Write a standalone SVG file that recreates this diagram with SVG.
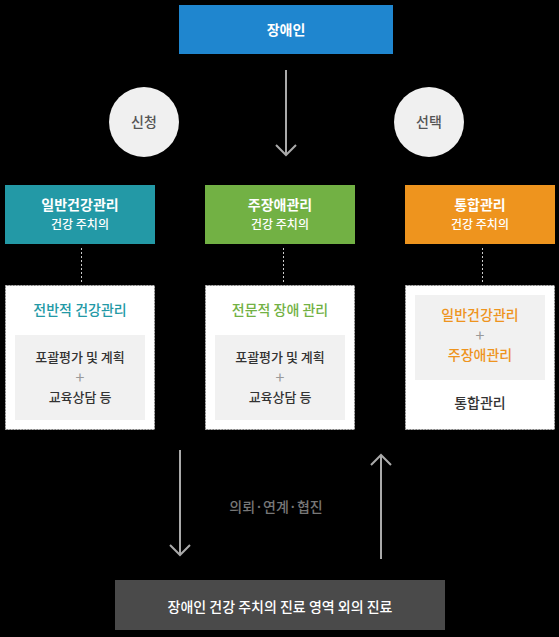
<svg xmlns="http://www.w3.org/2000/svg" width="559" height="637" viewBox="0 0 559 637">
<defs>
<style>
text{font-family:"Noto Sans CJK KR","Noto Sans",sans-serif;text-anchor:middle;}
.hd{fill:#fff;font-size:14px;font-weight:700;}
.sub{fill:#fff;font-size:12px;font-weight:500;}
.card{fill:#fff;stroke:#bbb;stroke-width:1;stroke-dasharray:1.5 1.5;}
.inner{fill:#f1f1f1;}
.body{fill:#333;font-size:13px;font-weight:500;}
.plus{fill:#999;font-size:16px;}
.circ{fill:#f0f0f0;}
.ctext{fill:#555;font-size:14px;font-weight:500;}
.arr{stroke:#aaa;stroke-width:2;fill:none;}
.dot{stroke:#ccc;stroke-width:1;stroke-dasharray:2 2;}
</style>
</defs>
<rect x="0" y="0" width="559" height="637" fill="#000"/>

<g id="connectors">
<line class="arr" x1="286" y1="70" x2="286" y2="155"/>
<polyline class="arr" points="276,145 286,155 296,145"/>
<line class="dot" x1="81.5" y1="248" x2="81.5" y2="282"/>
<line class="dot" x1="283.5" y1="248" x2="283.5" y2="282"/>
<line class="dot" x1="482.5" y1="248" x2="482.5" y2="282"/>
<line class="arr" x1="180" y1="450" x2="180" y2="555"/>
<polyline class="arr" points="170,545 180,555 190,545"/>
<line class="arr" x1="381" y1="559" x2="381" y2="455"/>
<polyline class="arr" points="371,465 381,455 391,465"/>
<text x="276" y="512" fill="#777" font-size="14" font-weight="500">의뢰·연계·협진</text>
</g>

<g id="node-top">
<rect x="179" y="5" width="214" height="49" fill="#1f86cf"/>
<text class="hd" x="286" y="34.5">장애인</text>
</g>

<g id="node-apply">
<circle class="circ" cx="144" cy="122" r="35"/>
<text class="ctext" x="144" y="127">신청</text>
</g>
<g id="node-select">
<circle class="circ" cx="429" cy="122" r="35"/>
<text class="ctext" x="429" y="127">선택</text>
</g>

<g id="node-general">
<rect x="5" y="185" width="150" height="59" fill="#2399a6"/>
<text class="hd" x="80" y="210">일반건강관리</text>
<text class="sub" x="80" y="229">건강 주치의</text>
</g>
<g id="node-main">
<rect x="205" y="185" width="150" height="59" fill="#72b144"/>
<text class="hd" x="280" y="210">주장애관리</text>
<text class="sub" x="280" y="229">건강 주치의</text>
</g>
<g id="node-integrated">
<rect x="405" y="185" width="150" height="59" fill="#ee941e"/>
<text class="hd" x="480" y="210">통합관리</text>
<text class="sub" x="480" y="229">건강 주치의</text>
</g>

<g id="card-general">
<rect class="card" x="5.5" y="285.5" width="149" height="144"/>
<text x="80" y="315" fill="#2399a6" font-size="14" font-weight="500">전반적 건강관리</text>
<rect class="inner" x="15" y="335" width="130" height="85"/>
<text class="body" x="80" y="362">포괄평가 및 계획</text>
<text class="plus" x="80" y="383">+</text>
<text class="body" x="80" y="402">교육상담 등</text>
</g>
<g id="card-main">
<rect class="card" x="205.5" y="285.5" width="149" height="144"/>
<text x="280" y="315" fill="#72b144" font-size="14" font-weight="500">전문적 장애 관리</text>
<rect class="inner" x="215" y="335" width="130" height="85"/>
<text class="body" x="280" y="362">포괄평가 및 계획</text>
<text class="plus" x="280" y="383">+</text>
<text class="body" x="280" y="402">교육상담 등</text>
</g>
<g id="card-integrated">
<rect class="card" x="405.5" y="285.5" width="149" height="144"/>
<rect class="inner" x="415" y="295" width="130" height="85"/>
<text x="480" y="320" fill="#ee941e" font-size="14" font-weight="500">일반건강관리</text>
<text class="plus" x="480" y="341">+</text>
<text x="480" y="360" fill="#ee941e" font-size="14" font-weight="500">주장애관리</text>
<text x="480" y="408" fill="#333" font-size="14" font-weight="500">통합관리</text>
</g>

<g id="node-bottom">
<rect x="115" y="580" width="330" height="50" fill="#4a4a4a"/>
<text x="280" y="612" fill="#fff" font-size="14" font-weight="500">장애인 건강 주치의 진료 영역 외의 진료</text>
</g>
</svg>
